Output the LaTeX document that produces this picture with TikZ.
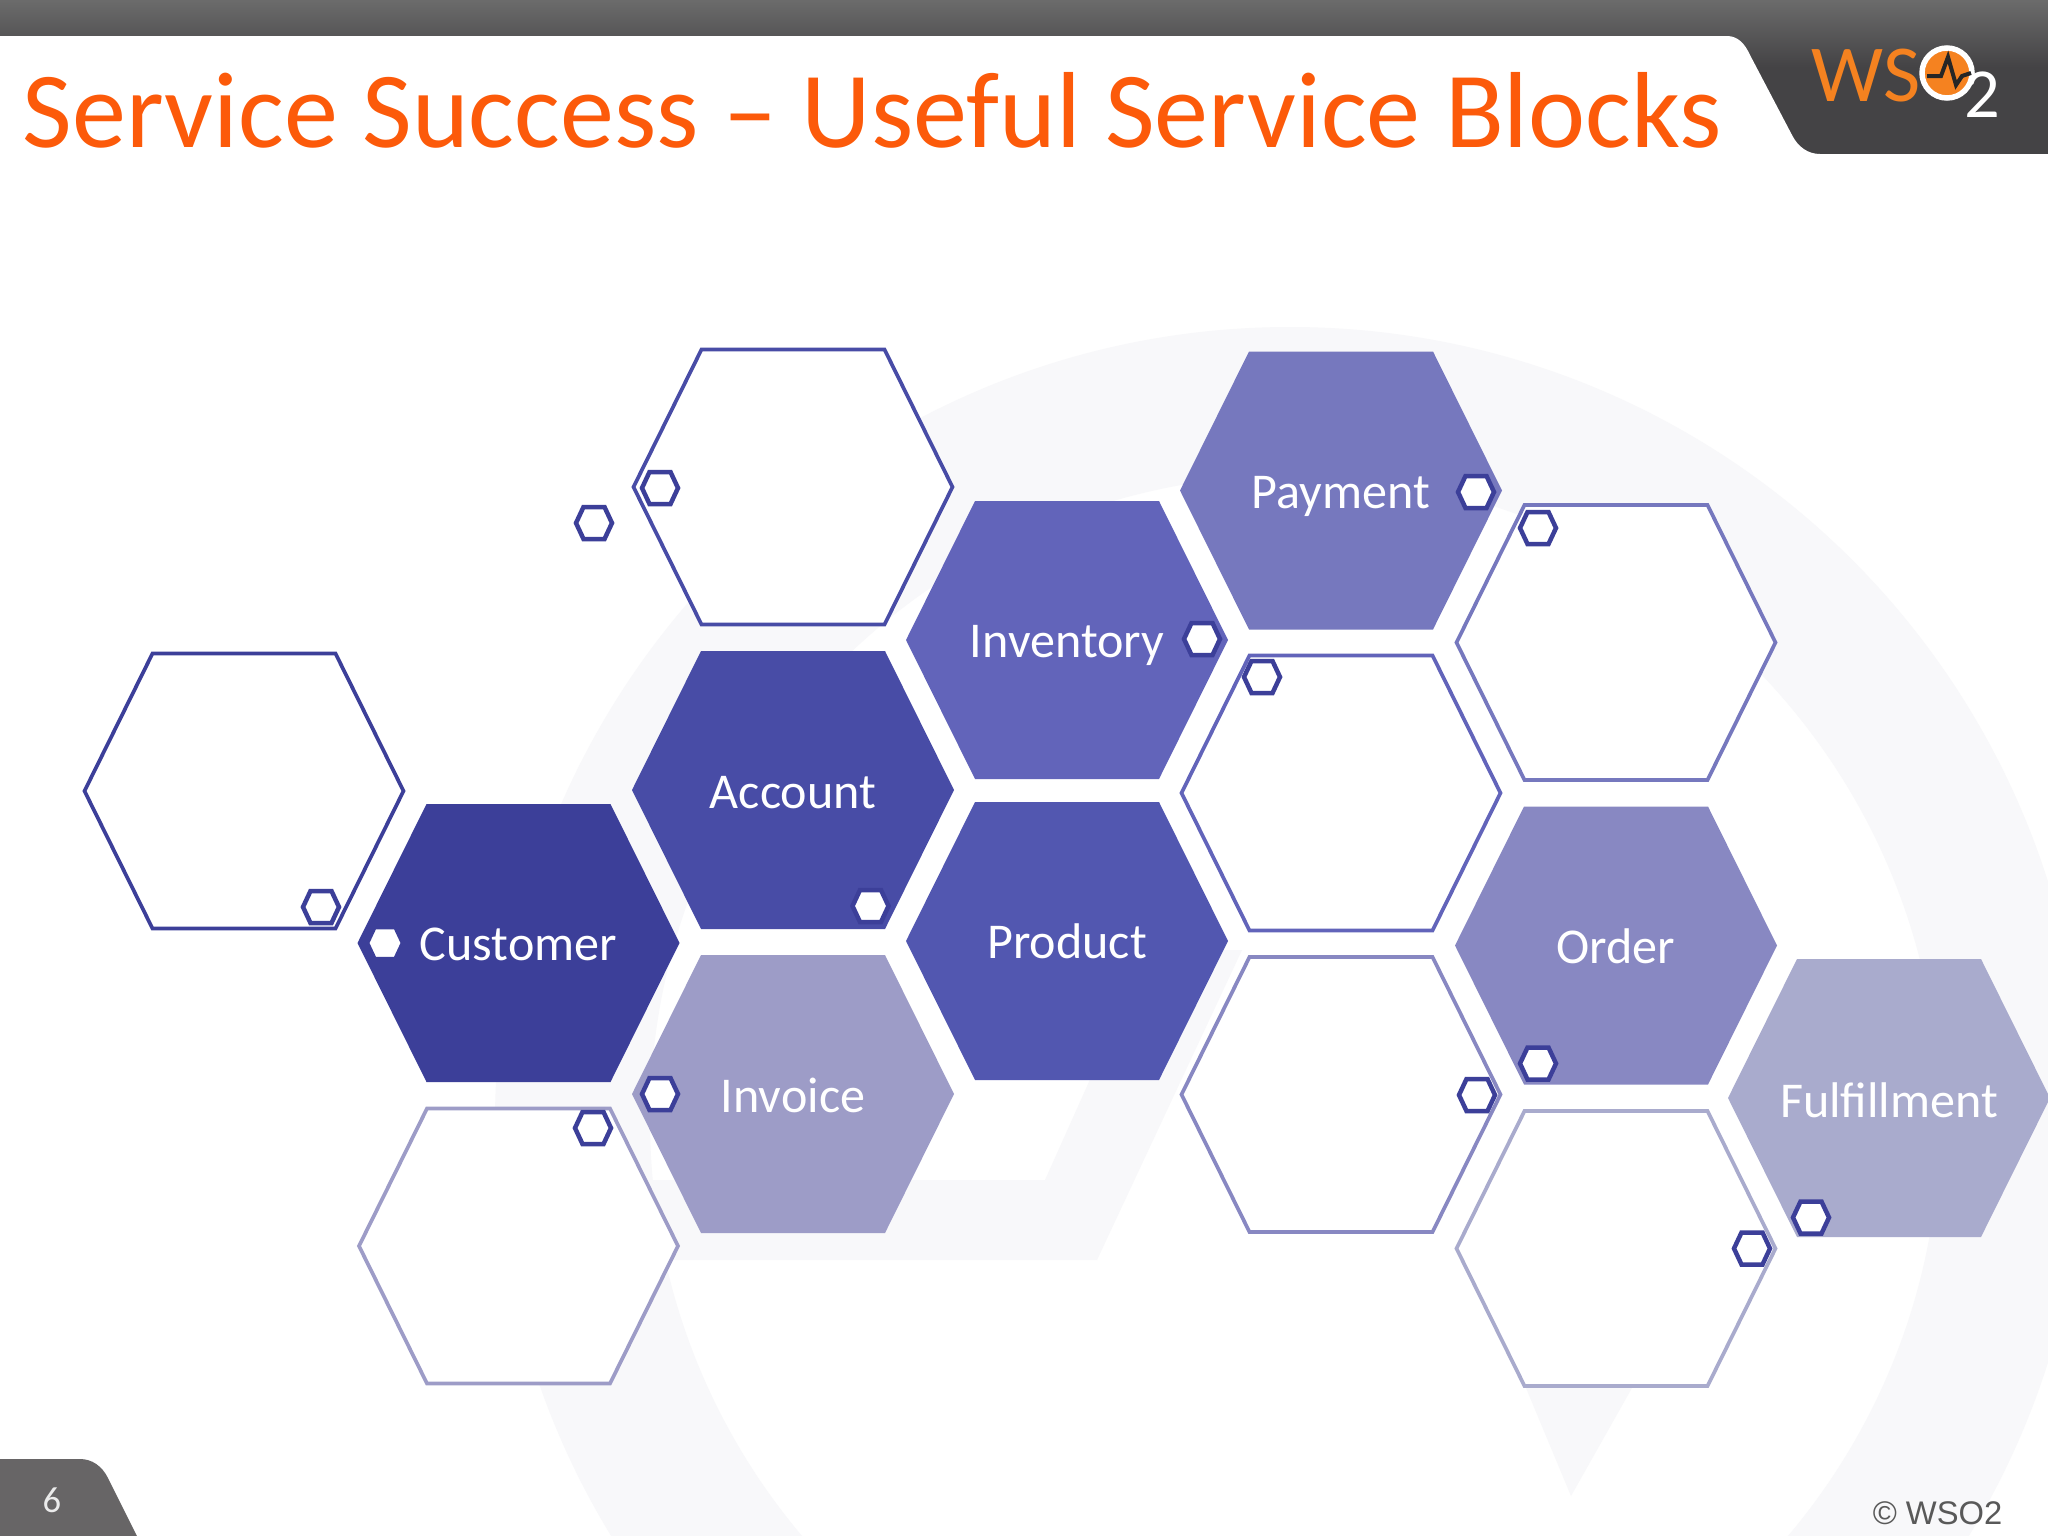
\documentclass[tikz,border=0pt]{standalone}
\usepackage{fontspec}
\setmainfont{Carlito}
\newfontfamily\footfont{Liberation Sans}
\definecolor{custcol}{HTML}{3C3F99}
\definecolor{acctcol}{HTML}{484CA6}
\definecolor{prodcol}{HTML}{5257B0}
\definecolor{invtcol}{HTML}{6264BA}
\definecolor{paymcol}{HTML}{7678BE}
\definecolor{ordrcol}{HTML}{8888C2}
\definecolor{billcol}{HTML}{9D9CC7}
\definecolor{fulfcol}{HTML}{A9ABCD}
\definecolor{titlecol}{HTML}{FC5A0A}
\definecolor{tabcol}{HTML}{444345}
\definecolor{pagecol}{HTML}{676566}
\definecolor{logocol}{HTML}{F58220}
\definecolor{ringcol}{HTML}{F8F8FA}
\newcommand{\hexpath}[3]{(-#1,0)--(-#2,-#3)--(#2,-#3)--(#1,0)--(#2,#3)--(-#2,#3)--cycle}
\tikzset{
  cellname/.style={text=white,font=\fontsize{14.25pt}{16pt}\selectfont,anchor=base,inner sep=0pt},
}
\begin{document}
\begin{tikzpicture}[x=0.01cm,y=-0.01cm]
\useasboundingbox (0,0) rectangle (2048,1536);
\fill[white](0,0) rectangle (2048,1536);
%watermark
\begin{scope}
\clip (0,0) rectangle (2048,1536);
\fill[ringcol,even odd rule](1290,1122) circle (795) (1295,1120) circle (645);
\fill[ringcol](640,1260)--(1097,1260)--(1242,950)--(1148,950)--(1045,1180)--(640,1180)--cycle;
\fill[ringcol](1571,1496)--(1506,1340)--(1659,1340)--cycle;
\end{scope}
%header
\shade[top color=black!58,bottom color=tabcol](0,0) rectangle (2048,67);
\fill[tabcol](1700,67) rectangle (2048,154);
\fill[white](0,36)--(1727,36) .. controls (1738,36) and (1745,44) .. (1750,55)--(1792,135) .. controls (1798,147) and (1808,154) .. (1820,154)--(2048,154)--(2048,200)--(0,200)--cycle;
\node[text=titlecol,font=\fontsize{30.75pt}{34pt}\selectfont,anchor=base west,inner sep=0pt] (title) at (22,147) {Service Success -- Useful Service Blocks};
%logo
\node[text=logocol,font=\fontsize{23pt}{26pt}\selectfont,anchor=base west,inner sep=0pt] (logows) at (1811,101) {WS};
\draw[white,line width=0.055cm,fill=logocol](1947,73) circle (25);
\draw[black!85,line width=0.04cm](1927,76)--(1941,76)--(1948,57)--(1956,85)--(1962,76)--(1971,73);
\node[text=white,font=\fontsize{20pt}{22pt}\selectfont,anchor=base,inner sep=0pt] (logotwo) at (1982,117) {2};
%footer
\fill[pagecol](0,1459)--(80,1459) .. controls (92,1459) and (102,1466) .. (108,1478)--(137,1536)--(0,1536)--cycle;
\node[text=black!8,font=\fontsize{10.4pt}{12pt}\selectfont,inner sep=0pt] (pagenum) at (52,1500) {6};
\node[text=black!65,font=\footfont\fontsize{9.3pt}{11pt}\selectfont,anchor=base east,inner sep=0pt] (copyright) at (2003,1524) {© WSO2};
%empty cells
\foreach \x/\y/\col in {244/791/custcol,793/487/acctcol,518.5/1246/billcol,1341/793/invtcol,1341/1094.5/ordrcol,1616/642.5/paymcol,1616/1248.5/fulfcol}
  \draw[shift={(\x,\y)},\col,fill=white,line width=0.037cm] \hexpath{159.5}{91.5}{137.5};
%named cells
\foreach \x/\y/\dy/\col/\txt in {518.5/943/17/custcol/Customer,793/790/18/acctcol/Account,793/1094/18/billcol/Invoice,1067/640/17/invtcol/Inventory,1067/941/17/prodcol/Product,1341/490.5/18/paymcol/Payment,1616/945.5/18/ordrcol/Order,1889/1098/19/fulfcol/Fulfillment}{
  \fill[shift={(\x,\y)},\col] \hexpath{161}{92}{139};
  \node[cellname] (\txt) at (\x,\y+\dy) {\txt};
}
%small markers
\foreach \x/\y in {594/523,660/488,321/907,385/943,870.5/906,1202/639,1476/492,1538/528,1262/677,1538/1063.5,1477/1095,660/1094,593/1128,1752/1248.5,1811/1217.5}
  \draw[shift={(\x,\y)},custcol,fill=white,line width=0.045cm] \hexpath{18}{10.5}{16};
\end{tikzpicture}
\end{document}
